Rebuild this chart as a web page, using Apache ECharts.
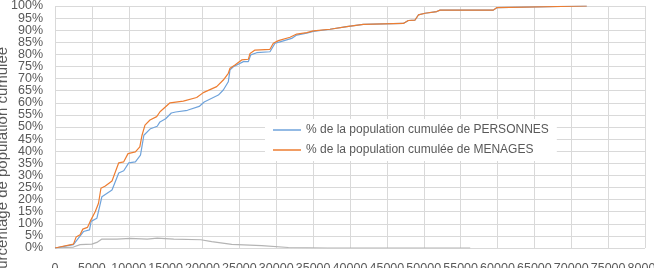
<!DOCTYPE html>
<html><head><meta charset="utf-8">
<script src="https://cdn.jsdelivr.net/npm/echarts@6/dist/echarts.min.js"></script>
<style>html,body{margin:0;padding:0;background:#fff}#c{width:654px;height:268px}</style>
</head><body><div id="c"></div>
<script>
var xTicks = [0,5000,10000,15000,20000,25000,30000,35000,40000,45000,50000,55000,60000,65000,70000,75000,80000];
var yTickLabels = ['0%','5%','10%','15%','20%','25%','30%','35%','40%','45%','50%','55%','60%','65%','70%','75%','80%','85%','90%','95%','100%'];
var seriesNames = ['% de la population cumulée de PERSONNES','% de la population cumulée de MENAGES'];
var yTitle = 'Pourcentage de population cumulée';

var persX = [0,2500,3180,3860,4680,4900,5680,6040,6360,7730,8640,9320,10000,10900,11590,12050,12950,13860,14230,15000,15770,16360,17950,19550,20230,22150,22820,23500,23730,24180,25540,26220,26540,27350,29150,29830,30510,32090,32770,34130,35030,37290,39560,41800,47230,47910,48820,49270,50170,51760,52210,59430,59890,72100];
var persY = [0,1.4,4.1,6.8,7.5,11,12.3,17,21.2,24,31,31.9,35.2,35.6,38.4,46.6,49.3,50.3,52.1,53.4,55.8,56.2,56.9,58.5,60.3,63.2,65.3,68.7,73.6,74.9,77,77,79.8,80.7,81.1,84.6,85.2,86.6,88,88.8,89.5,90.4,91.5,92.4,92.8,94,94.2,96.3,97,97.7,98.3,98.3,99.3,100];

var menX = [0,2500,2860,3400,3770,4400,4770,5450,5900,6230,6820,7730,8640,9320,9900,10900,11500,11800,12200,12880,13790,14240,15600,17400,19210,20110,21920,22820,23500,23730,24400,25310,26220,26450,27120,29150,29600,30290,31870,32770,34130,35030,37290,39560,41800,47230,47910,48820,49270,50170,51760,52210,59430,59890,72100];
var menY = [0,1.6,4.5,5.5,7.8,8.5,11,15,18.5,24.7,25.6,27.7,35.2,35.6,39,39.7,41.8,46.6,50.8,52.9,54.3,56.3,60,60.7,62.2,64.2,66.7,69.4,72.2,74.3,75.6,77.7,78,80.4,81.8,82.1,84.6,85.7,87.1,88.4,89,89.7,90.4,91.5,92.4,92.8,94,94.2,96.3,97,97.7,98.3,98.3,99.3,100];

var grayX = [0,2500,3400,5000,5680,6360,8400,10200,12500,13860,16100,19770,21250,23960,28030,31640,37000,56300];
var grayY = [0,0.4,1.4,1.6,2.3,3.7,3.7,4,3.7,4.1,3.7,3.4,2.6,1.5,1,0.2,0,0];

function zip(a,b){return a.map(function(v,i){return [v,b[i]];});}
var FONT = "'Liberation Sans',sans-serif";
var chart = echarts.init(document.getElementById('c'));
chart.setOption({
  animation:false,
  textStyle:{fontFamily:FONT},
  grid:{left:55,right:9,top:6,bottom:20,containLabel:false,outerBoundsMode:'none'},
  xAxis:{type:'value',min:0,max:80000,interval:5000,
    axisLine:{show:false},axisTick:{show:false},
    splitLine:{show:true,lineStyle:{color:'#d9d9d9',width:1}},
    axisLabel:{color:'#595959',fontSize:12.5,margin:14,hideOverlap:false,
      formatter:function(v){return xTicks.indexOf(v)>=0?String(v):'';}}},
  yAxis:[
    {type:'value',min:0,max:100,interval:5,
      axisLine:{show:false},axisTick:{show:false},axisLabel:{show:false},
      splitLine:{show:true,lineStyle:{color:'#d9d9d9',width:1}}},
    {type:'category',data:yTickLabels,boundaryGap:false,position:'left',
      axisLine:{show:false},axisTick:{show:false},splitLine:{show:false},
      axisLabel:{color:'#595959',fontSize:12.5,margin:12,interval:0,hideOverlap:false}}
  ],
  legend:{data:seriesNames,orient:'vertical',left:265,top:119,padding:[5,8,5,8],itemGap:8,
    icon:'rect',itemWidth:28,itemHeight:1.5,backgroundColor:'#ffffff',
    textStyle:{color:'#595959',fontSize:12,fontFamily:FONT}},
  graphic:[{type:'text',rotation:Math.PI/2,
    x:3,y:167,
    style:{text:yTitle,fill:'#595959',fontSize:15,fontFamily:FONT,textAlign:'center',textVerticalAlign:'middle'}}],
  series:[
    {name:'gris',type:'line',yAxisIndex:0,data:zip(grayX,grayY),symbol:'none',lineStyle:{color:'#b4b4b4',width:1.2},itemStyle:{color:'#b4b4b4'},z:1},
    {name:seriesNames[0],type:'line',yAxisIndex:0,data:zip(persX,persY),symbol:'none',lineStyle:{color:'#6fa3db',width:1.2},itemStyle:{color:'#6fa3db'},z:2},
    {name:seriesNames[1],type:'line',yAxisIndex:0,data:zip(menX,menY),symbol:'none',lineStyle:{color:'#ed7d31',width:1.2},itemStyle:{color:'#ed7d31'},z:3}
  ]
});
</script></body></html>
